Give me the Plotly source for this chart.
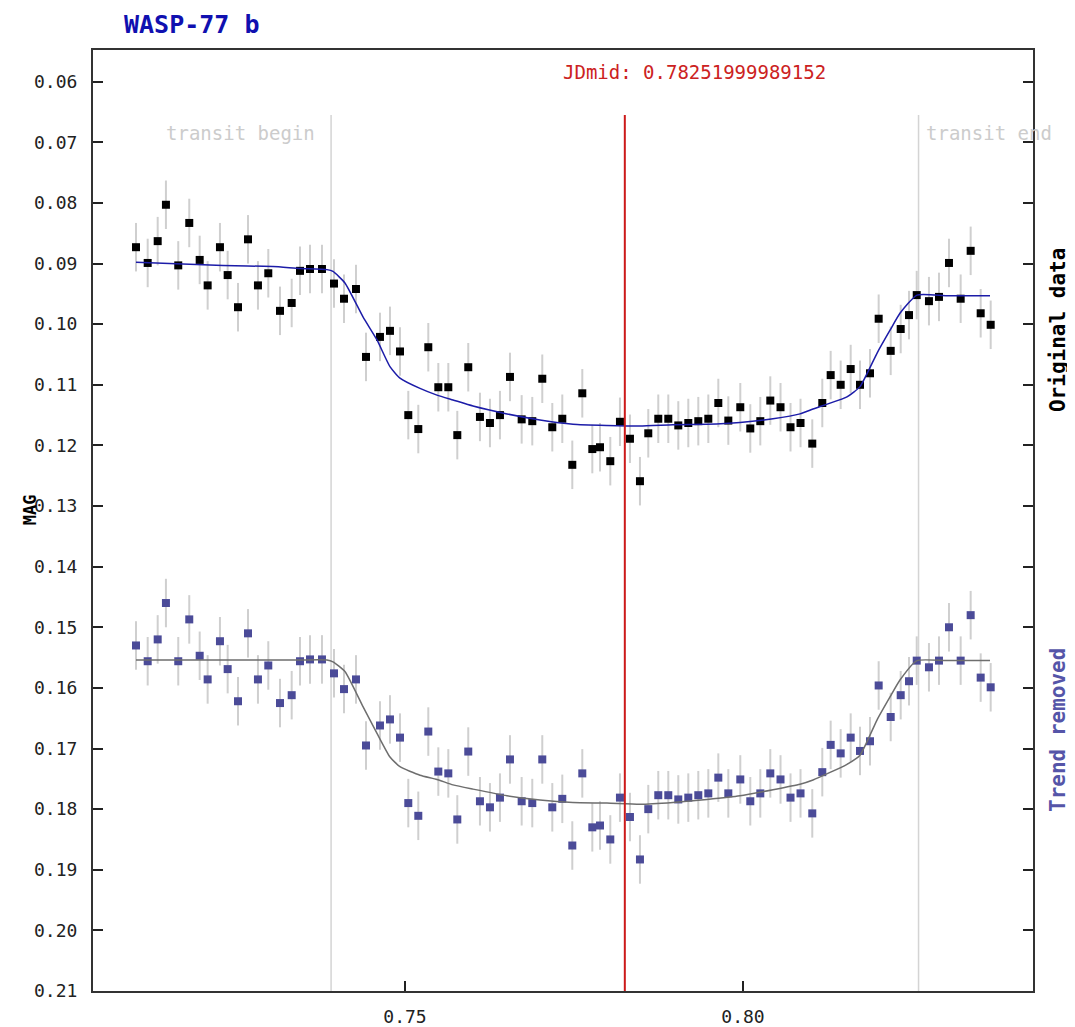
import plotly.graph_objects as go

# ---------------- data ----------------
time = [0.71021, 0.71194, 0.71342, 0.71464, 0.71646, 0.71809, 0.71963, 0.72081, 0.72263, 0.72377,
        0.72530, 0.72678, 0.72825, 0.72978, 0.73151, 0.73324, 0.73447, 0.73595, 0.73772, 0.73950,
        0.74098, 0.74275, 0.74423, 0.74630, 0.74778, 0.74926, 0.75049, 0.75197, 0.75345, 0.75493,
        0.75641, 0.75774, 0.75936, 0.76109, 0.76257, 0.76405, 0.76553, 0.76726, 0.76883, 0.77031,
        0.77179, 0.77327, 0.77475, 0.77623, 0.77771, 0.77885, 0.78037, 0.78180, 0.78328, 0.78476,
        0.78599, 0.78747, 0.78895, 0.79043, 0.79191, 0.79339, 0.79487, 0.79635, 0.79783, 0.79960,
        0.80108, 0.80256, 0.80404, 0.80555, 0.80703, 0.80851, 0.81025, 0.81173, 0.81297, 0.81445,
        0.81593, 0.81731, 0.81879, 0.82007, 0.82185, 0.82333, 0.82456, 0.82570, 0.82751, 0.82899,
        0.83047, 0.83220, 0.83368, 0.83516, 0.83664]

mag_original = [0.0873, 0.0899, 0.0863, 0.0803, 0.0903, 0.0833, 0.0894, 0.0936, 0.0873, 0.0919,
                0.0972, 0.0860, 0.0936, 0.0916, 0.0978, 0.0965, 0.0912, 0.0909, 0.0909, 0.0933,
                0.0958, 0.0942, 0.1054, 0.1021, 0.1011, 0.1045, 0.1150, 0.1173, 0.1038, 0.1104,
                0.1104, 0.1183, 0.1071, 0.1153, 0.1163, 0.1150, 0.1087, 0.1157, 0.1160, 0.1090,
                0.1170, 0.1156, 0.1232, 0.1114, 0.1206, 0.1203, 0.1226, 0.1161, 0.1189, 0.1259,
                0.1180, 0.1156, 0.1156, 0.1167, 0.1163, 0.1160, 0.1156, 0.1130, 0.1159, 0.1137,
                0.1172, 0.1160, 0.1126, 0.1137, 0.1170, 0.1163, 0.1197, 0.1130, 0.1084, 0.1100,
                0.1074, 0.1100, 0.1081, 0.0991, 0.1044, 0.1008, 0.0985, 0.0952, 0.0962, 0.0955,
                0.0899, 0.0958, 0.0879, 0.0982, 0.1001]

mag_detrended = [0.1530, 0.1556, 0.1520, 0.1460, 0.1556, 0.1487, 0.1547, 0.1586, 0.1523, 0.1569,
                 0.1622, 0.1510, 0.1586, 0.1563, 0.1625, 0.1612, 0.1556, 0.1553, 0.1553, 0.1576,
                 0.1602, 0.1586, 0.1695, 0.1662, 0.1652, 0.1682, 0.1790, 0.1811, 0.1672, 0.1738,
                 0.1741, 0.1817, 0.1705, 0.1787, 0.1797, 0.1781, 0.1718, 0.1787, 0.1790, 0.1718,
                 0.1797, 0.1783, 0.1860, 0.1741, 0.1830, 0.1827, 0.1850, 0.1781, 0.1813, 0.1883,
                 0.1800, 0.1777, 0.1777, 0.1784, 0.1781, 0.1777, 0.1774, 0.1748, 0.1774, 0.1751,
                 0.1787, 0.1774, 0.1741, 0.1751, 0.1781, 0.1774, 0.1807, 0.1739, 0.1694, 0.1708,
                 0.1682, 0.1704, 0.1688, 0.1596, 0.1648, 0.1612, 0.1589, 0.1555, 0.1566, 0.1555,
                 0.1500, 0.1555, 0.1480, 0.1583, 0.1599]

mag_error = 0.0040

model_time = [0.71021, 0.72308, 0.73047, 0.73447, 0.73846, 0.73935, 0.74112, 0.74379, 0.74586, 0.74778,
              0.74926, 0.75222, 0.75473, 0.75710, 0.76006, 0.76509, 0.76997, 0.77485, 0.77988, 0.78476,
              0.78964, 0.79467, 0.79956, 0.80444, 0.80843, 0.81036, 0.81538, 0.81731, 0.81982, 0.82175,
              0.82322, 0.82574, 0.83018, 0.83654]

model_original = [0.0898, 0.0903, 0.0905, 0.0908, 0.0910, 0.0913, 0.0932, 0.0988, 0.1026, 0.1070,
                  0.1089, 0.1106, 0.1117, 0.1125, 0.1135, 0.1148, 0.1158, 0.1165, 0.1167, 0.1168,
                  0.1166, 0.1165, 0.1162, 0.1156, 0.1148, 0.1140, 0.1120, 0.1103, 0.1048, 0.1010,
                  0.0982, 0.0952, 0.0953, 0.0953]

model_detrended = [0.1554, 0.1554, 0.1554, 0.1554, 0.1554, 0.1557, 0.1573, 0.1631, 0.1675, 0.1714,
                   0.1730, 0.1744, 0.1751, 0.1760, 0.1767, 0.1778, 0.1785, 0.1789, 0.1790, 0.1792,
                   0.1789, 0.1784, 0.1778, 0.1768, 0.1759, 0.1752, 0.1726, 0.1711, 0.1653, 0.1615,
                   0.1587, 0.1555, 0.1555, 0.1555]

jd_mid = 0.78251999989152
transit_begin = 0.73907
transit_end = 0.82597

y_ticks = [0.06, 0.07, 0.08, 0.09, 0.10, 0.11, 0.12, 0.13, 0.14, 0.15, 0.16, 0.17, 0.18, 0.19, 0.20, 0.21]
x_ticks = [0.75, 0.80]

# ---------------- figure ----------------
MONO = "DejaVu Sans Mono"
ERR_COLOR = "#cfcfcf"
TREND_COLOR = "#4b4b98"

fig = go.Figure()

fig.add_trace(go.Scatter(
    x=time, y=mag_original, mode="markers",
    marker=dict(symbol="square", size=8, color="#000000"),
    error_y=dict(type="constant", value=mag_error, color=ERR_COLOR, thickness=2, width=0),
    showlegend=False, hoverinfo="x+y"))

fig.add_trace(go.Scatter(
    x=time, y=mag_detrended, mode="markers",
    marker=dict(symbol="square", size=8, color=TREND_COLOR),
    error_y=dict(type="constant", value=mag_error, color=ERR_COLOR, thickness=2, width=0),
    showlegend=False, hoverinfo="x+y"))

fig.add_trace(go.Scatter(
    x=model_time, y=model_original, mode="lines",
    line=dict(color="#1c1ca8", width=1.5, shape="spline", smoothing=0.5),
    showlegend=False, hoverinfo="skip"))

fig.add_trace(go.Scatter(
    x=model_time, y=model_detrended, mode="lines",
    line=dict(color="#6e6e6e", width=1.5, shape="spline", smoothing=0.5),
    showlegend=False, hoverinfo="skip"))

line_top = 0.0655
for xv in (transit_begin, transit_end):
    fig.add_shape(type="line", xref="x", yref="y", x0=xv, x1=xv, y0=line_top, y1=0.21,
                  line=dict(color="#d4d4d4", width=1.5), layer="below")
fig.add_shape(type="line", xref="x", yref="y", x0=jd_mid, x1=jd_mid, y0=line_top, y1=0.21,
              line=dict(color="#cc1a1a", width=2), layer="above")

annotations = [
    dict(x=0.031, y=1.0266, xref="paper", yref="paper", text="<b>WASP-77 b</b>", showarrow=False,
         xanchor="left", yanchor="middle", font=dict(family=MONO, size=25, color="#1010b0")),
    dict(x=jd_mid, y=0.0584, xref="x", yref="y", text="JDmid: 0.78251999989152", showarrow=False,
         xanchor="left", yanchor="middle", xshift=-64,
         font=dict(family=MONO, size=19, color="#cc2222")),
    dict(x=transit_begin, y=0.06846, xref="x", yref="y", text="transit begin", showarrow=False,
         xanchor="right", yanchor="middle", xshift=-14,
         font=dict(family=MONO, size=19, color="#cccccc")),
    dict(x=transit_end, y=0.06846, xref="x", yref="y", text="transit end", showarrow=False,
         xanchor="left", yanchor="middle", xshift=5,
         font=dict(family=MONO, size=19, color="#cccccc")),
    dict(x=-0.067, y=0.511, xref="paper", yref="paper", text="<b>MAG</b>", showarrow=False,
         textangle=-90, xanchor="center", yanchor="middle",
         font=dict(family=MONO, size=17, color="#000000")),
    dict(x=1.0266, y=0.7024, xref="paper", yref="paper", text="<b>Original data</b>", showarrow=False,
         textangle=-90, xanchor="center", yanchor="middle",
         font=dict(family=MONO, size=21, color="#000000")),
    dict(x=1.0266, y=0.2774, xref="paper", yref="paper", text="<b>Trend removed</b>", showarrow=False,
         textangle=-90, xanchor="center", yanchor="middle",
         font=dict(family=MONO, size=21, color="#5555a8")),
]

# page body adds an 8px offset, so the figure is sized to fill the rest of the window
fig.update_layout(
    width=1067, height=1019,
    margin=dict(l=85, r=42, t=42, b=36, autoexpand=False),
    paper_bgcolor="white", plot_bgcolor="white",
    annotations=annotations,
    showlegend=False,
)

fig.update_xaxes(
    range=[0.70385, 0.8429], tickvals=x_ticks, ticktext=[f"{v:.2f}" for v in x_ticks],
    ticks="inside", ticklen=10, tickwidth=1.5, tickcolor="#222222",
    showline=True, linecolor="#333333", linewidth=2, mirror=True,
    showgrid=False, zeroline=False, ticklabelstandoff=8, automargin=False,
    tickfont=dict(family=MONO, size=18, color="#222222"),
)
fig.update_yaxes(
    range=[0.21, 0.05477], tickvals=y_ticks, ticktext=[f"{v:.2f}" for v in y_ticks],
    ticks="inside", ticklen=10, tickwidth=2, tickcolor="#222222",
    showline=True, linecolor="#333333", linewidth=2, mirror="ticks",
    showgrid=False, zeroline=False, ticklabelstandoff=10, automargin=False,
    tickfont=dict(family=MONO, size=18, color="#222222"),
)

fig.write_html("out.html")
